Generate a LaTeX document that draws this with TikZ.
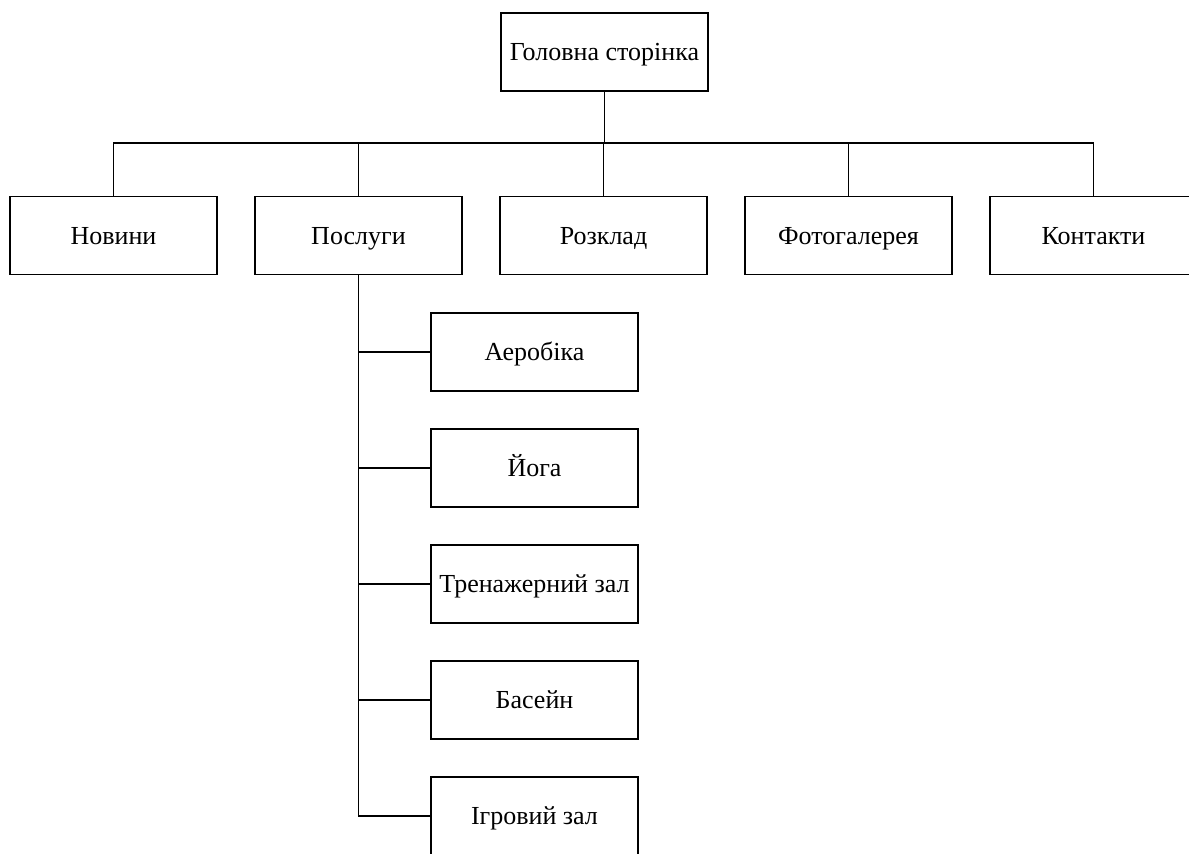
\documentclass[tikz,border=0pt]{standalone}
\usepackage{fontspec}
\setmainfont{Liberation Serif}
\usetikzlibrary{positioning}

\begin{document}
\begin{tikzpicture}[x=0.5pt,y=-0.5pt,node distance=122.5pt,line width=0.7pt,
    box/.style={draw,rectangle,minimum width=103.5pt,minimum height=39pt,inner sep=2pt,
        text height=10pt,text depth=1.5pt,font=\fontsize{13}{15}\selectfont}]
    \useasboundingbox (0,0) rectangle (1189,853);
    \node [box] (home) at (604.5,52) {Головна сторінка};
    \node [box] (news) at (113.5,235.5) {Новини};
    \node [box,right of = news] (serv) {Послуги};
    \node [box,right of = serv] (sched) {Розклад};
    \node [box,right of = sched] (photo) {Фотогалерея};
    \node [box,right of = photo] (cont) {Контакти};
    \node [box] (aero) at (534.5,352) {Аеробіка};
    \node [box,below of = aero,node distance=58pt] (yoga) {Йога};
    \node [box,below of = yoga,node distance=58pt] (gym) {Тренажерний зал};
    \node [box,below of = gym,node distance=58pt] (pool) {Басейн};
    \node [box,below of = pool,node distance=58pt] (game) {Ігровий зал};
    \coordinate (bus) at (604.5,143);

    \draw (home.south) -- (bus);
    \draw (news.north) |- (bus) -| (cont.north);
    \foreach \n in {serv,sched,photo}
        \draw (\n.north) -- (\n.north |- bus);

    \draw (serv.south) |- (game.west);
    \foreach \n in {aero,yoga,gym,pool}
        \draw (\n.west) -- (\n.west -| serv.south);
\end{tikzpicture}
\end{document}
